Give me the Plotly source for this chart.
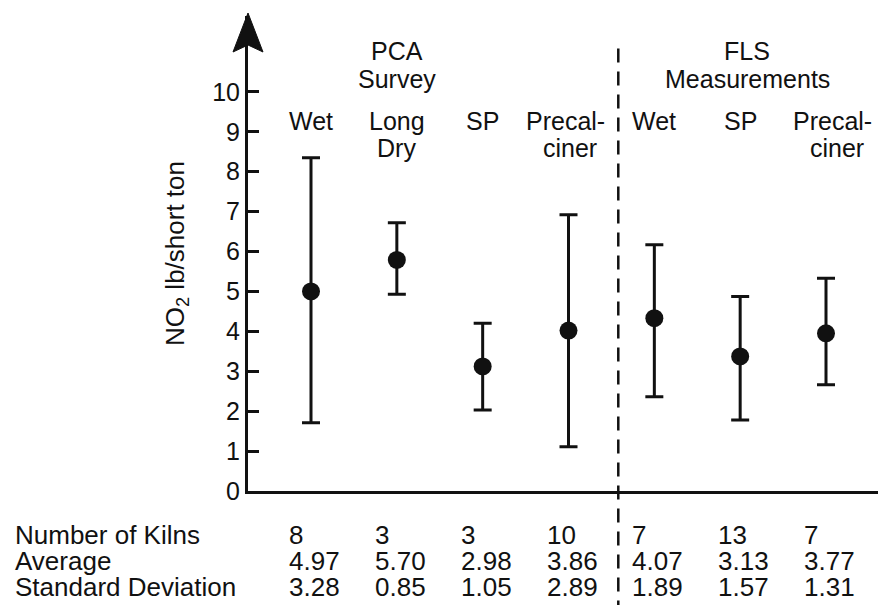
import plotly.graph_objects as go

# ---- data ----
categories = ["PCA Wet", "PCA Long Dry", "PCA SP", "PCA Precalciner",
              "FLS Wet", "FLS SP", "FLS Precalciner"]
header_line1 = ["Wet", "Long", "SP", "Precal-", "Wet", "SP", "Precal-"]
header_line2 = ["", "Dry", "", "ciner", "", "", "ciner"]
group_line1 = ["PCA", "FLS"]
group_line2 = ["Survey", "Measurements"]
means = [5.00, 5.79, 3.12, 4.02, 4.33, 3.37, 3.95]
upper = [8.35, 6.72, 4.20, 6.92, 6.17, 4.87, 5.33]
lower = [1.71, 4.93, 2.03, 1.11, 2.36, 1.78, 2.66]
row_labels = ["Number of Kilns", "Average", "Standard Deviation"]
kilns = ["8", "3", "3", "10", "7", "13", "7"]
averages = ["4.97", "5.70", "2.98", "3.86", "4.07", "3.13", "3.77"]
std_devs = ["3.28", "0.85", "1.05", "2.89", "1.89", "1.57", "1.31"]
y_ticks = list(range(0, 11))

# ---- style / layout constants ----
FONT = "Liberation Sans, Arial, Helvetica, sans-serif"
INK = "#111111"
FS = 25
FS_TABLE = 26
header_shift = [0, 0, 0, 38, 0, 0, 48]     # right-aligned "Precal-/ciner" headers
group_center = [1.0, 5.08]

err_plus = [u - m for u, m in zip(upper, means)]
err_minus = [m - l for m, l in zip(means, lower)]

fig = go.Figure()
fig.add_trace(go.Scatter(
    x=categories, y=means, mode="markers",
    marker=dict(size=18, color=INK),
    error_y=dict(type="data", symmetric=False, array=err_plus, arrayminus=err_minus,
                 color=INK, thickness=3, width=9),
    showlegend=False, cliponaxis=False,
))

def txt(size=FS, **kw):
    d = dict(showarrow=False, font=dict(family=FONT, size=size, color=INK))
    d.update(kw)
    return d

annotations = []
# column headers (two separate lines for tight leading)
for cat, l1, l2, sh in zip(categories, header_line1, header_line2, header_shift):
    anchor = "right" if sh else "center"
    annotations.append(txt(x=cat, xref="x", y=9.27, yref="y", text=l1,
                           xanchor=anchor, xshift=sh, yanchor="middle"))
    if l2:
        annotations.append(txt(x=cat, xref="x", y=8.6, yref="y", text=l2,
                               xanchor=anchor, xshift=sh - (8 if sh else 0),
                               yanchor="middle"))
# group titles
for gx, g1, g2 in zip(group_center, group_line1, group_line2):
    annotations.append(txt(x=gx, xref="x", y=11.02, yref="y", text=g1,
                           xanchor="center", yanchor="middle"))
    annotations.append(txt(x=gx, xref="x", y=10.33, yref="y", text=g2,
                           xanchor="center", yanchor="middle"))
# table below the axis
row_y = [-0.093, -0.148, -0.203]
for ry, lab, vals in zip(row_y, row_labels, [kilns, averages, std_devs]):
    annotations.append(txt(size=FS_TABLE, x=-0.369, xref="paper", y=ry, yref="paper", text=lab,
                           xanchor="left", yanchor="middle"))
    for cat, v in zip(categories, vals):
        annotations.append(txt(size=FS_TABLE, x=cat, xref="x", y=ry, yref="paper", text=v,
                               xanchor="left", xshift=-24, yanchor="middle"))

shapes = [
    # dashed divider between the two groups
    dict(type="line", xref="x", yref="paper", x0=3.58, x1=3.58, y0=-0.26, y1=0.95,
         line=dict(color=INK, width=2.5, dash="14px,9px")),
    # arrowhead on top of the y axis
    dict(type="path", xref="x domain", yref="y domain", xsizemode="pixel", ysizemode="pixel",
         xanchor=0, yanchor=1, path="M -15,-36 L 0,3 L 15,-36 L 0,-29 Z",
         fillcolor=INK, line=dict(color=INK, width=1)),
]

# the page adds an 8px body margin, so the figure is 8px smaller and offset
fig.update_layout(
    width=878, height=597,
    margin=dict(l=240, r=0, t=8, b=114),
    paper_bgcolor="white", plot_bgcolor="white",
    font=dict(family=FONT, size=FS, color=INK),
    xaxis=dict(type="category", range=[-0.734, 6.699], showticklabels=False, ticks="",
               showgrid=False, zeroline=False, showline=True, linecolor=INK, linewidth=3),
    yaxis=dict(range=[0, 11.9], tickvals=y_ticks, ticks="inside", ticklen=11, tickwidth=2.5,
               tickcolor=INK, showgrid=False, zeroline=False, showline=True, linecolor=INK,
               linewidth=3, tickfont=dict(family=FONT, size=FS, color=INK),
               title=dict(text="NO<sub>2</sub> lb/short ton", standoff=21,
                          font=dict(family=FONT, size=26, color=INK))),
    annotations=annotations,
    shapes=shapes,
)

fig.write_html("out.html")
